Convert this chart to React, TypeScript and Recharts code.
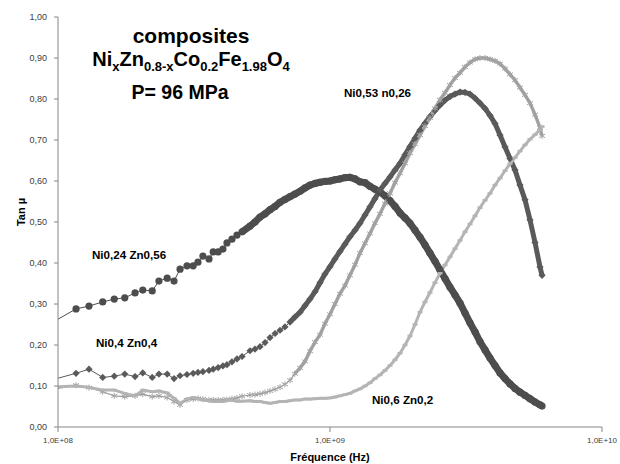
import React from "react";
import { ComposedChart, Line, XAxis, YAxis } from "recharts";

// measuring frequencies (Hz), shared by the four samples
const freqs = [
  1.0e8, 1.165e8, 1.3e8, 1.46e8, 1.61e8, 1.76e8, 1.92e8, 2.05e8, 2.22e8, 2.35e8,
  2.52e8, 2.67e8, 2.81e8, 2.98e8, 3.14e8, 3.27e8, 3.41e8, 3.59e8, 3.72e8, 3.88e8,
  4.04e8, 4.18e8, 4.36e8, 4.55e8, 4.75e8,
  5.08e8, 5.3e8, 5.53e8, 5.77e8, 6.02e8, 6.28e8, 6.55e8, 6.83e8, 7.13e8, 7.43e8,
  7.76e8, 8.09e8, 8.44e8, 8.81e8, 9.19e8, 9.58e8, 1.0e9, 1.043e9, 1.088e9, 1.135e9,
  1.184e9, 1.236e9, 1.289e9, 1.345e9, 1.403e9, 1.463e9, 1.527e9, 1.593e9, 1.662e9, 1.734e9,
  1.809e9, 1.887e9, 1.968e9, 2.054e9, 2.142e9, 2.235e9, 2.331e9, 2.432e9, 2.537e9, 2.647e9,
  2.762e9, 2.881e9, 3.006e9, 3.136e9, 3.271e9, 3.413e9, 3.56e9, 3.715e9, 3.875e9, 4.043e9,
  4.217e9, 4.4e9, 4.59e9, 4.788e9, 4.995e9, 5.212e9, 5.437e9, 5.672e9, 5.917e9, 6.02e9,
];

// Ni0,24 Zn0,56
const tanA = [
  0.263, 0.288, 0.295, 0.305, 0.312, 0.315, 0.327, 0.334, 0.332, 0.356,
  0.363, 0.356, 0.385, 0.393, 0.393, 0.402, 0.417, 0.41, 0.427, 0.427,
  0.434, 0.449, 0.458, 0.468, 0.476,
  0.49, 0.5, 0.512, 0.52, 0.53, 0.538, 0.548, 0.555, 0.562, 0.568,
  0.575, 0.583, 0.59, 0.594, 0.597, 0.599, 0.6, 0.603, 0.605, 0.608,
  0.609, 0.605, 0.598, 0.596, 0.587, 0.58, 0.573, 0.564, 0.552, 0.538,
  0.522, 0.51, 0.497, 0.48, 0.463, 0.444, 0.424, 0.404, 0.383, 0.362,
  0.341, 0.322, 0.302, 0.278, 0.254, 0.232, 0.208, 0.188, 0.168, 0.15,
  0.132, 0.118, 0.105, 0.094, 0.085, 0.077, 0.069, 0.061, 0.054, 0.051,
];

// Ni0,4 Zn0,4
const tanB = [
  0.119, 0.131, 0.141, 0.121, 0.124, 0.129, 0.123, 0.132, 0.121, 0.129,
  0.129, 0.118, 0.125, 0.128, 0.131, 0.133, 0.135, 0.138, 0.141, 0.145,
  0.149, 0.152, 0.159, 0.166, 0.172,
  0.186, 0.19, 0.196, 0.206, 0.218, 0.228, 0.236, 0.244, 0.256, 0.268,
  0.28, 0.296, 0.312, 0.33, 0.352, 0.373, 0.391, 0.41, 0.428, 0.446,
  0.464, 0.48, 0.497, 0.517, 0.537, 0.557, 0.578, 0.594, 0.61, 0.627,
  0.643, 0.664, 0.684, 0.704, 0.724, 0.741, 0.757, 0.772, 0.785, 0.797,
  0.806, 0.812, 0.817, 0.816, 0.812, 0.802, 0.79, 0.777, 0.76, 0.74,
  0.712, 0.683, 0.655, 0.627, 0.59, 0.554, 0.505, 0.45, 0.39, 0.37,
];

// Ni0,53 Zn0,26
const tanC = [
  0.094, 0.102, 0.096, 0.086, 0.076, 0.074, 0.076, 0.08, 0.074, 0.076,
  0.072, 0.062, 0.054, 0.066, 0.068, 0.07, 0.068, 0.066, 0.066, 0.066,
  0.066, 0.067, 0.069, 0.071, 0.075,
  0.078, 0.079, 0.081, 0.084, 0.088, 0.092, 0.097, 0.104, 0.114, 0.13,
  0.144, 0.16, 0.185, 0.207, 0.225, 0.252, 0.275, 0.3, 0.325, 0.345,
  0.37, 0.396, 0.424, 0.448, 0.472, 0.497, 0.52, 0.545, 0.57, 0.596,
  0.619, 0.643, 0.668, 0.69, 0.712, 0.734, 0.754, 0.777, 0.798, 0.815,
  0.834, 0.851, 0.864, 0.878, 0.889, 0.897, 0.9, 0.9, 0.897, 0.893,
  0.886, 0.874, 0.86, 0.846, 0.828, 0.81, 0.79, 0.762, 0.73, 0.71,
];

// Ni0,6 Zn0,2
const tanD = [
  0.098, 0.1, 0.097, 0.09, 0.09, 0.082, 0.076, 0.09, 0.086, 0.088,
  0.083, 0.07, 0.058, 0.068, 0.072, 0.069, 0.066, 0.064, 0.062, 0.062,
  0.062, 0.065, 0.066, 0.063, 0.063,
  0.064, 0.062, 0.062, 0.06, 0.058, 0.06, 0.062, 0.062, 0.064, 0.066,
  0.066, 0.068, 0.068, 0.069, 0.07, 0.07, 0.071, 0.073, 0.076, 0.079,
  0.082, 0.088, 0.093, 0.1, 0.108, 0.118, 0.127, 0.138, 0.15, 0.164,
  0.18, 0.2, 0.222, 0.25, 0.28, 0.305, 0.328, 0.352, 0.375, 0.395,
  0.415, 0.435, 0.455, 0.476, 0.495, 0.515, 0.535, 0.553, 0.57, 0.59,
  0.607, 0.625, 0.642, 0.657, 0.673, 0.688, 0.702, 0.713, 0.725, 0.733,
];

const yTicks = [0, 0.1, 0.2, 0.3, 0.4, 0.5, 0.6, 0.7, 0.8, 0.9, 1.0];
const xTicks = [1e8, 1e9, 1e10];

const toRows = (vals: number[]) => freqs.map((f, i) => ({ f, v: vals[i] }));

const FONT = "'Liberation Sans', Arial, sans-serif";

const circleDot = (p: any) =>
  p.index === 0 ? (
    <g key={`a-${p.index}`} />
  ) : (
    <circle key={`a-${p.index}`} cx={p.cx} cy={p.cy} r={3.6} fill="#4d4d4d" />
  );

const diamondDot = (p: any) => {
  const s = 3.6;
  if (p.index === 0) return <g key={`b-${p.index}`} />;
  return (
    <path
      key={`b-${p.index}`}
      d={`M${p.cx},${p.cy - s}L${p.cx + s},${p.cy}L${p.cx},${p.cy + s}L${p.cx - s},${p.cy}Z`}
      fill="#5a5a5a"
    />
  );
};

const starDot = (p: any) => {
  const s = 3;
  if (p.index === 0) return <g key={`c-${p.index}`} />;
  return (
    <path
      key={`c-${p.index}`}
      d={`M${p.cx},${p.cy - s}V${p.cy + s}M${p.cx - s},${p.cy - s * 0.6}L${p.cx + s},${p.cy + s * 0.6}M${p.cx - s},${p.cy + s * 0.6}L${p.cx + s},${p.cy - s * 0.6}`}
      stroke="#a2a2a2"
      strokeWidth={1}
      fill="none"
    />
  );
};

const dashDot = (p: any) => {
  if (p.index === 0) return <g key={`d-${p.index}`} />;
  return (
    <path
      key={`d-${p.index}`}
      d={`M${p.cx - 2.5},${p.cy}H${p.cx + 2.5}`}
      stroke="#b4b4b4"
      strokeWidth={2.5}
    />
  );
};

const fmtX = (v: number) => {
  const e = Math.round(Math.log10(v));
  return `1,0E+${String(e).padStart(2, "0")}`;
};
const fmtY = (v: number) => v.toFixed(2).replace(".", ",");

// where the measured points crowd into a continuous band
const band = (vals: number[], from: number) => toRows(vals).slice(from);

export default function App() {
  return (
    <div style={{ position: "relative", width: 620, height: 464, background: "#fff" }}>
      <style>{`body{margin:0}`}</style>
      <ComposedChart
        width={620}
        height={464}
        margin={{ top: 17, right: 18, bottom: 7, left: 0 }}
      >
        <XAxis
          dataKey="f"
          type="number"
          scale="log"
          domain={[1e8, 1e10]}
          ticks={xTicks}
          tickFormatter={fmtX}
          interval={0}
          allowDataOverflow
          height={30}
          stroke="#868686"
          tickSize={5}
          tickMargin={5}
          tick={{ fill: "#404040", fontSize: 8, fontFamily: FONT }}
        />
        <YAxis
          type="number"
          domain={[0, 1]}
          ticks={yTicks}
          tickFormatter={fmtY}
          interval={0}
          width={58}
          stroke="#868686"
          tickSize={4}
          tickMargin={7}
          tick={{ fill: "#404040", fontSize: 9, fontFamily: FONT }}
        />
        <Line
          data={band(tanA, 24)}
          dataKey="v"
          stroke="#4d4d4d"
          strokeWidth={7}
          strokeLinejoin="round"
          dot={false}
          activeDot={false}
          isAnimationActive={false}
        />
        <Line
          data={toRows(tanA)}
          dataKey="v"
          stroke="#4d4d4d"
          strokeWidth={1}
          dot={circleDot}
          activeDot={false}
          isAnimationActive={false}
        />
        <Line
          data={band(tanB, 33)}
          dataKey="v"
          stroke="#5a5a5a"
          strokeWidth={5}
          strokeLinejoin="round"
          dot={false}
          activeDot={false}
          isAnimationActive={false}
        />
        <Line
          data={toRows(tanB)}
          dataKey="v"
          stroke="#5a5a5a"
          strokeWidth={1}
          dot={diamondDot}
          activeDot={false}
          isAnimationActive={false}
        />
        <Line
          data={band(tanC, 34)}
          dataKey="v"
          stroke="#a8a8a8"
          strokeWidth={3.5}
          strokeLinejoin="round"
          dot={false}
          activeDot={false}
          isAnimationActive={false}
        />
        <Line
          data={toRows(tanC)}
          dataKey="v"
          stroke="#9c9c9c"
          strokeWidth={1.2}
          dot={starDot}
          activeDot={false}
          isAnimationActive={false}
        />
        <Line
          data={toRows(tanD)}
          dataKey="v"
          stroke="#b4b4b4"
          strokeWidth={3}
          dot={dashDot}
          activeDot={false}
          isAnimationActive={false}
        />
      </ComposedChart>
      <svg
        width={620}
        height={464}
        style={{ position: "absolute", left: 0, top: 0, pointerEvents: "none" }}
        fontFamily={FONT}
        fontWeight="bold"
      >
        <text x={191} y={43} textAnchor="middle" fontSize={21}>composites</text>
        <text x={191} y={66} textAnchor="middle" fontSize={20}>
          Ni<tspan fontSize={13} dy={5}>x</tspan>
          <tspan dy={-5}>Zn</tspan><tspan fontSize={13} dy={5}>0.8-x</tspan>
          <tspan dy={-5}>Co</tspan><tspan fontSize={13} dy={5}>0.2</tspan>
          <tspan dy={-5}>Fe</tspan><tspan fontSize={13} dy={5}>1.98</tspan>
          <tspan dy={-5}>O</tspan><tspan fontSize={13} dy={5}>4</tspan>
        </text>
        <text x={180} y={99} textAnchor="middle" fontSize={19.5}>P= 96 MPa</text>
        <text x={344} y={97} fontSize={11.6}>Ni0,53 n0,26</text>
        <text x={92} y={259} fontSize={11.6}>Ni0,24 Zn0,56</text>
        <text x={96} y={347} fontSize={11.6}>Ni0,4 Zn0,4</text>
        <text x={372} y={404} fontSize={11.6}>Ni0,6 Zn0,2</text>
        <text x={330} y={461} textAnchor="middle" fontSize={11}>Fréquence (Hz)</text>
        <text x={25} y={212} textAnchor="middle" fontSize={11} transform="rotate(-90 25 212)">Tan µ</text>
      </svg>
    </div>
  );
}
